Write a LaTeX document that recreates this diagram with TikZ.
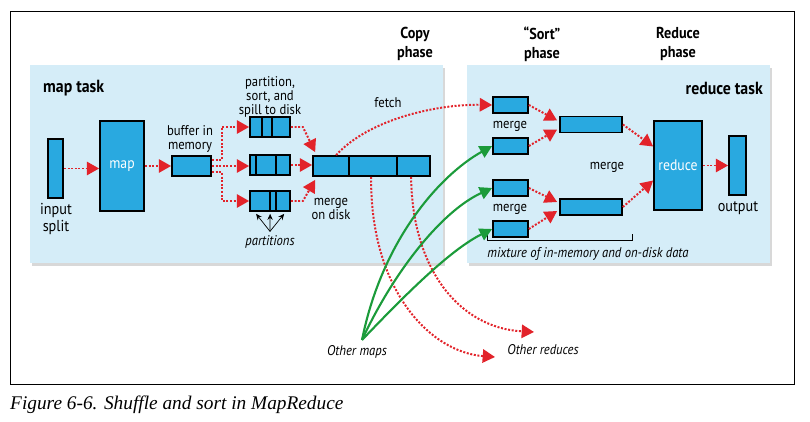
\documentclass[tikz,border=0pt]{standalone}
\usepackage{fontspec}
\setmainfont[FakeStretch=0.9]{PT Sans}
\newfontfamily\capfont{Liberation Serif}
\usetikzlibrary{arrows.meta,calc,shadows}

\definecolor{boxblue}{HTML}{29A9E0}
\definecolor{panelblue}{HTML}{D5EDF8}
\definecolor{flowred}{HTML}{E2232A}
\definecolor{feedgreen}{HTML}{1B9B3A}

\tikzset{
  blk/.style 2 args={draw=black, line width=1.5pt, fill=boxblue, inner sep=0pt,
    minimum width=#1*0.3mm, minimum height=#2*0.3mm},
  panel/.style={fill=panelblue, drop shadow={shadow xshift=2pt, shadow yshift=-2.5pt, fill=black!30}},
  flow/.style={flowred, line width=1.7pt, dash pattern=on 1.7pt off 1.4pt,
    -{Triangle[length=3.7mm,width=4mm]}},
  feed/.style={feedgreen, line width=1.8pt, -{Triangle[length=3.7mm,width=3.8mm]}},
  lbl/.style={font=\fontsize{12}{12}\selectfont, align=center, inner sep=0pt},
  biglbl/.style={font=\fontsize{13.5}{14.5}\selectfont, align=center, inner sep=0pt},
  head/.style={font=\bfseries\fontsize{13.5}{16}\selectfont, align=center, inner sep=0pt},
  task/.style={font=\bfseries\fontsize{15}{16}\selectfont, inner sep=0pt},
  note/.style={font=\itshape\fontsize{12}{12}\selectfont, inner sep=0pt},
  inbox/.style={text=white, font=\fontsize{13}{14}\selectfont}
}

\begin{document}
\begin{tikzpicture}[x=0.3mm, y=-0.3mm]
\useasboundingbox (0,0) rectangle (810,422);

%% frame and caption
\draw[line width=0.6pt] (10,11) rectangle (794,384);
\node[anchor=west, inner sep=0pt, font=\capfont\itshape\fontsize{16.5}{18}\selectfont] (caption) at (10,405) {Figure 6-6. Shuffle and sort in MapReduce};

%% the two task panels
\path[panel] (30,65) rectangle (443,263);
\path[panel] (467,65) rectangle (770,263);

%% phase headings
\node[head] (copyph) at (415,44) {Copy\\phase};
\node[head] (sortph) at (542,44) {``Sort''\\phase};
\node[head] (reduceph) at (678,44) {Reduce\\phase};
\node[task, anchor=west] (maptask) at (43,88) {map task};
\node[task, anchor=east] (reducetask) at (763,88) {reduce task};

%% map side
\node[blk={15}{59}] (split) at (55.5,168.5) {};
\node[blk={44}{90}, inbox] (map) at (122,166) {map};
\node[blk={39}{20}] (buffer) at (191.5,166) {};
\node[blk={40}{20}] (sp1) at (270,127) {};
\node[blk={40}{20}] (sp2) at (270,165) {};
\node[blk={40}{20}] (sp3) at (270,201) {};
\node[blk={117}{20}] (merged) at (371.5,166) {};

% dividers in the spill files
\foreach \f/\a/\b in {sp1/13/23, sp2/7/27, sp3/21/27, merged/37/85}
  \draw[line width=1.5pt] ($(\f.north west)+(\a,0)$) -- ($(\f.south west)+(\a,0)$)
                          ($(\f.north west)+(\b,0)$) -- ($(\f.south west)+(\b,0)$);

\node[biglbl] (splitlbl) at (56,219) {input\\split};
\node[lbl] (bufferlbl) at (190,139) {buffer in\\memory};
\node[lbl] (spilllbl) at (270,97) {partition,\\sort, and\\spill to disk};
\node[lbl] (diskmerge) at (331,209) {merge\\on disk};
\node[lbl] (fetch) at (388,103) {fetch};
\node[note] (parts) at (270,242) {partitions};

% partitions pointers
\foreach \d in {7,21,35}
  \draw[-{Stealth[length=1.8mm,width=1.6mm]}, line width=0.6pt] ($(parts.north)+(0,-4)$) -- ($(sp3.south west)+(\d,2)$);

%% map side flow
\draw[flow] (split) -- (split -| map.west);
\draw[flow] (map.east |- buffer) -- (buffer.west);
\draw[flow] ($(buffer.east)+(0,-6)$) -- ++(10,0) |- (sp1.west);
\draw[flow] (buffer.east) -- (buffer.east -| sp2.west);
\draw[flow] ($(buffer.east)+(0,6)$) -- ++(10,0) |- (sp3.west);
\draw[flow] (sp1.east) -- ++(12,0) -- ($(merged.north west)+(3,-3)$);
\draw[flow] (sp2.east) -- (sp2.east -| merged.west);
\draw[flow] (sp3.east) -- ++(12,0) -- ($(merged.south west)+(3,3)$);

%% reduce side
\node[blk={35}{16}] (r1) at (510.5,105) {};
\node[blk={35}{16}] (r2) at (510.5,146) {};
\node[blk={35}{16}] (r3) at (510.5,188) {};
\node[blk={35}{16}] (r4) at (510.5,229) {};
\node[blk={62}{16}] (m1) at (591,124.5) {};
\node[blk={62}{16}] (m2) at (591,207) {};
\node[blk={48}{89}, inbox] (reduce) at (678,165.5) {reduce};
\node[blk={17}{59}] (output) at (737.5,165.5) {};

\node[lbl] (mergeA) at (510,126) {merge};
\node[lbl] (mergeB) at (510,209) {merge};
\node[lbl] (mergeC) at (607,167) {merge};
\node[biglbl] (outputlbl) at (738,208) {output};

% bracket under the merge inputs
\coordinate (bl) at (487,234);
\coordinate (br) at (632,234);
\draw[line width=0.6pt] (bl) -- ++(0,6) -| (br);
\node[note] (mixture) at (588,254) {mixture of in-memory and on-disk data};

%% reduce side flow
\draw[flow] (r1.east) -- ($(m1.west)+(-2,-4)$);
\draw[flow] (r2.east) -- ($(m1.west)+(-2,5)$);
\draw[flow] (r3.east) -- ($(m2.west)+(-2,-5)$);
\draw[flow] (r4.east) -- ($(m2.west)+(-2,4)$);
\draw[flow] (m1.east) -- ($(reduce.west)+(0,-19)$);
\draw[flow] (m2.east) -- ($(reduce.west)+(0,15)$);
\draw[flow] (reduce.east) -- (reduce.east -| output.west);

%% copy phase: fetch and other reduces
\draw[flow] ($(merged.north west)+(24,0)$) .. controls (370,118) and (440,104) .. (r1.west);
\node[note] (otherred) at (543,350) {Other reduces};
\node[note] (othermaps) at (357,352) {Other maps};
\coordinate (redA) at (495,357);
\coordinate (redB) at (534,332);
\draw[flow] ($(merged.south west)+(59,0)$) .. controls (370,290) and (430,352) .. (redA);
\draw[flow] ($(merged.south west)+(99,0)$) .. controls (412,270) and (460,328) .. (redB);

%% other maps feeding the reduce task
\coordinate (src) at (362,340);
\draw[feed] (src) .. controls (382,240) and (440,175) .. (r2.west);
\draw[feed] (src) .. controls (392,275) and (440,212) .. (r3.west);
\draw[feed] (src) .. controls (405,295) and (450,250) .. (r4.west);

\end{tikzpicture}
\end{document}
